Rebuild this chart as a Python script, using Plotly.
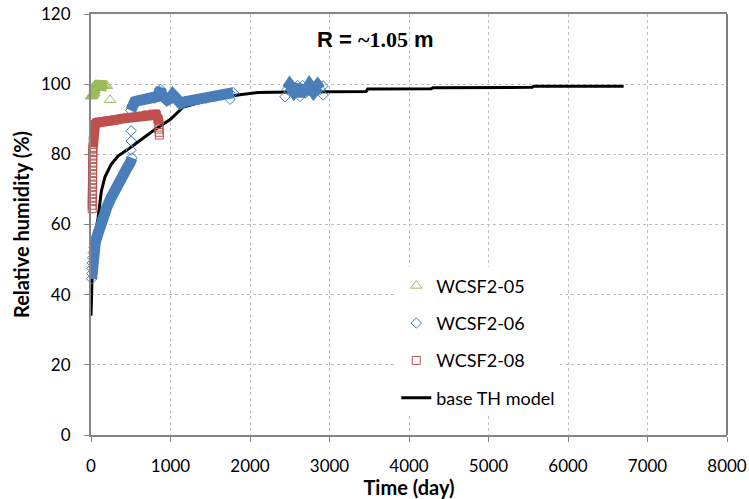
import plotly.graph_objects as go

# base TH model (day, %)
model_t = [0, 8, 15, 40, 90, 130, 175, 250, 340, 500, 650, 800, 1000, 1160, 1400,
           1600, 1870, 2100, 2500, 3460, 3480, 4280, 4300, 5550, 5570, 6700]
model_rh = [34, 40, 46, 55.5, 62, 69.5, 73.5, 77, 79.5, 82, 84.5, 87, 90, 93.5, 95,
            96, 97, 97.6, 97.8, 97.9, 98.6, 98.7, 99.0, 99.1, 99.4, 99.4]

# WCSF2-05
g_t = [0, 5, 10, 20, 30, 40, 45, 50, 55, 60, 70, 80, 100, 120, 140, 160, 180, 200]
g_rh = [96.5, 96.6, 96.7, 96.8, 97.0, 97.5, 98.2, 98.9, 99.4, 99.6, 99.7, 99.7, 99.7,
        99.7, 99.6, 99.6, 99.6, 99.5]
g_lone_t = [240]
g_lone_rh = [95.5]

# WCSF2-06
b1_t = [8, 10, 12, 15, 20, 28, 40, 55, 75, 100, 130, 160, 200, 250, 300, 350, 400, 450, 490, 515]
b1_rh = [44.5, 46, 47.5, 49, 50.5, 52, 53.5, 55, 56.5, 58.5, 60.5, 62.5, 65, 67.5, 70,
         72, 74, 76, 77.5, 79]
b2_t = [500, 520, 550, 600, 650, 700, 750, 800, 840, 860, 875, 890, 920, 960, 1000, 1030,
        1060, 1100, 1130, 1180, 1250, 1350, 1450, 1550, 1650, 1750, 1790]
b2_rh = [92.5, 94, 95, 95.3, 95.6, 95.8, 96, 96, 96.5, 98, 98.5, 97, 95.8, 95.5, 96, 97,
         96.3, 94.8, 94.5, 95, 95.3, 95.6, 96, 96.4, 96.9, 97.4, 97.6]
b3_t = [2470, 2500, 2550, 2600, 2630, 2660, 2700, 2750, 2800, 2850, 2880]
b3_rh = [98.5, 99.5, 98, 99.6, 96.5, 99.6, 97.5, 99.5, 98, 99.4, 98.5]
b_iso_t = [505, 505, 505, 1750, 2440, 2920, 2920]
b_iso_rh = [81.2, 83.8, 86.7, 95.7, 96.4, 96.9, 99.5]

# WCSF2-08
r_open_t = [15, 15, 16, 16, 17, 17, 18, 18, 19, 19, 20, 20, 21, 21, 22, 22, 23, 23]
r_open_rh = [64.5, 65.5, 66.5, 67.5, 68.5, 69.5, 70.5, 71.5, 72.5, 73.5, 74.5, 75.5,
             76.5, 77.5, 78.5, 79.5, 80.5, 81.5]
r_t = [24, 28, 33, 40, 50, 70, 100, 150, 200, 300, 400, 500, 600, 700, 780, 820, 845, 855]
r_rh = [82, 84, 86, 87.5, 88.5, 89, 89.2, 89.3, 89.5, 89.8, 90.2, 90.5, 90.8, 91.2,
        91.5, 91.3, 90, 88.5]
r_end_t = [855, 858, 860]
r_end_rh = [87.2, 86.3, 85.5]

GREEN = "#9BBB59"
BLUE = "#4A7EBB"
RED = "#C0504D"
FONT = "Lato, Open Sans, sans-serif"

fig = go.Figure()

fig.add_trace(go.Scatter(x=model_t, y=model_rh, mode="lines", name="base TH model",
                         line=dict(color="black", width=3), legendgroup="m", legendrank=4))


def band(x, y, color, width, size, symbol, show=False, name=None, group=None, rank=None):
    # dense series: thick line underneath + open markers on top
    fig.add_trace(go.Scatter(x=x, y=y, mode="lines", showlegend=False, hoverinfo="skip",
                             line=dict(color=color, width=width), cliponaxis=False))
    fig.add_trace(go.Scatter(x=x, y=y, mode="markers", name=name, showlegend=show,
                             legendgroup=group, legendrank=rank, cliponaxis=False,
                             marker=dict(symbol=symbol, size=size, color=color,
                                         line=dict(color=color, width=1))))


def pts(x, y, color, size, symbol):
    fig.add_trace(go.Scatter(x=x, y=y, mode="markers", showlegend=False, cliponaxis=False,
                             marker=dict(symbol=symbol, size=size, color=color,
                                         line=dict(color=color, width=1))))


band(g_t, g_rh, GREEN, 11, 10, "triangle-up-open", True, "WCSF2-05", "g", 1)
pts(g_lone_t, g_lone_rh, GREEN, 10, "triangle-up-open")

pts(r_open_t, r_open_rh, RED, 8, "square-open")
band(r_t, r_rh, RED, 10, 8, "square-open", True, "WCSF2-08", "r", 3)
pts(r_end_t, r_end_rh, RED, 8, "square-open")

band(b1_t, b1_rh, BLUE, 11, 8, "diamond-open", True, "WCSF2-06", "b", 2)
band(b2_t, b2_rh, BLUE, 11, 8, "diamond-open")
band(b3_t, b3_rh, BLUE, 12, 8, "diamond-open")
pts(b_iso_t, b_iso_rh, BLUE, 8, "diamond-open")

axis_common = dict(showline=True, linecolor="#868686", linewidth=2, ticks="outside",
                   tickcolor="#868686", ticklen=5, showgrid=True, gridcolor="#BFBFBF",
                   griddash="dot", gridwidth=1, zeroline=False, automargin=False,
                   tickfont=dict(family=FONT, size=17, color="black"))

fig.update_xaxes(range=[0, 8000], dtick=1000, mirror=True, ticklabelstandoff=10,
                 title=dict(text="<b>Time (day)</b>", standoff=4,
                            font=dict(family=FONT, size=20, color="black")),
                 **axis_common)
fig.update_yaxes(range=[0, 120], dtick=20, ticklabelstandoff=10,
                 title=dict(text="<b>Relative humidity (%)</b>", standoff=6,
                            font=dict(family=FONT, size=20, color="black")),
                 **axis_common)

fig.add_shape(type="line", xref="paper", yref="paper", x0=1, x1=1, y0=0, y1=1,
              line=dict(color="black", width=1))

fig.add_annotation(xref="paper", yref="paper", x=0.447, y=0.974, showarrow=False,
                   text="<b>R = <span style='font-family:Liberation Serif'>~1.05</span> m</b>",
                   font=dict(family="Liberation Sans", size=22, color="black"))

fig.update_layout(
    width=749, height=499,
    margin=dict(l=91, r=22, t=14, b=64),
    paper_bgcolor="white", plot_bgcolor="white",
    legend=dict(x=0.48, y=0.398, xanchor="left", yanchor="top", bgcolor="white",
                font=dict(family=FONT, size=18, color="black"), tracegroupgap=11),
    showlegend=True,
)

# drop the default 8px page margin so the figure sits at the window origin
fig.write_html("out.html", config={"displayModeBar": False},
               post_script="document.body.style.margin='0';")
